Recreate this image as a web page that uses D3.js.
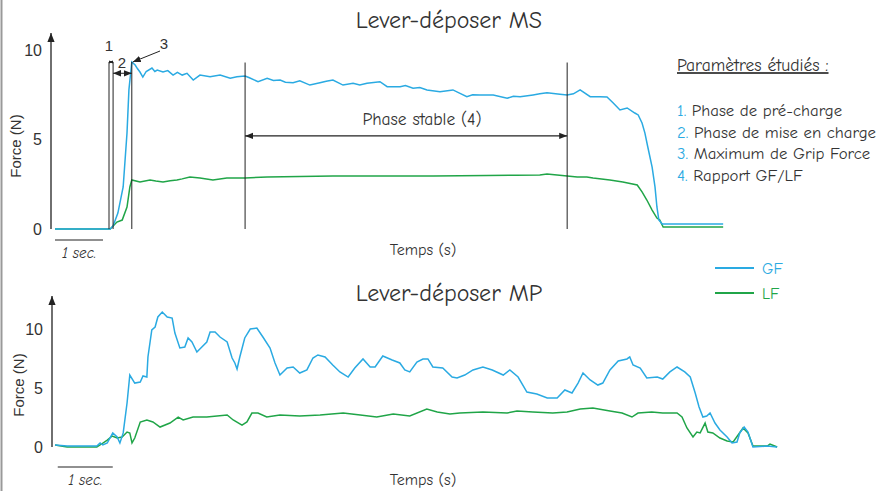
<!DOCTYPE html>
<html>
<head>
  <meta charset="UTF-8">
  <title>Lever-déposer MS / MP</title>
  <style>
    body { margin: 0; background: #fff; }
    svg { display: block; }
    .comic { font-family: "Comic Sans MS", "Comic Neue", "DejaVu Sans", sans-serif; fill: #333; }
    .arial { font-family: Arial, "Liberation Sans", sans-serif; fill: #333; }
  </style>
</head>
<body>
<svg></svg>
<script src="https://d3js.org/d3.v7.min.js"></script>
<script>

// ---- data (time in s, force in N) ----
let msGF = [[0,0],[1.15,0],[1.21,0.17],[1.31,0.89],[1.42,2.35],[1.50,5.36],[1.54,7.77],[1.60,9.33],
  [1.67,9.16],[1.72,8.95],[1.77,8.77],[1.83,8.49],[1.90,8.80],[2.02,8.99],[2.08,8.80],[2.13,8.88],[2.25,8.77],
  [2.35,8.85],[2.46,8.60],[2.55,8.75],[2.65,8.60],[2.75,8.70],[2.88,8.32],[3.02,8.60],[3.23,8.51],[3.44,8.60],
  [3.65,8.42],[3.79,8.51],[3.96,8.55],[4.05,8.45],[4.23,8.23],[4.42,8.42],[4.55,8.30],[4.69,8.32],[4.80,8.20],
  [4.96,8.17],[5.10,8.28],[5.31,8.04],[5.52,8.17],[5.65,8.25],[5.79,8.32],[6.00,8.04],[6.21,8.14],[6.35,8.05],
  [6.50,8.14],[6.77,8.23],[6.92,7.95],[7.19,7.95],[7.30,8.02],[7.46,7.86],[7.60,7.90],[7.75,7.77],[8.02,7.67],
  [8.29,7.77],[8.58,7.39],[8.70,7.50],[8.85,7.49],[9.13,7.49],[9.42,7.30],[9.55,7.42],[9.69,7.39],[9.96,7.49],
  [10.10,7.55],[10.25,7.61],[10.52,7.53],[10.67,7.49],[10.80,7.55],[10.94,7.77],[11.15,7.39],[11.35,7.39],
  [11.50,7.37],[11.63,7.04],[11.77,6.65],[11.92,6.76],[12.08,6.48],[12.15,6.37],[12.23,5.92],[12.29,5.36],
  [12.35,4.58],[12.44,3.46],[12.50,2.35],[12.54,1.23],[12.58,0.50],[12.65,0.28],[13.92,0.28]];

let msLF = [[0,0],[1.15,0],[1.29,0.39],[1.40,0.50],[1.50,1.23],[1.56,2.35],[1.60,2.74],[1.77,2.63],
  [1.98,2.74],[2.10,2.68],[2.25,2.63],[2.40,2.70],[2.54,2.74],[2.65,2.80],[2.81,2.91],[3.02,2.85],[3.29,2.74],
  [3.58,2.85],[3.96,2.85],[4.42,2.91],[5.10,2.93],[5.79,2.96],[6.80,2.96],[7.88,2.96],[9.00,2.99],[9.60,3.00],
  [10.10,3.02],[10.25,3.07],[10.67,2.96],[10.88,2.91],[11.08,2.91],[11.21,2.85],[11.56,2.74],[11.83,2.63],
  [12.13,2.46],[12.23,2.07],[12.33,1.62],[12.44,1.06],[12.54,0.61],[12.60,0.50],[12.67,0.11],[13.92,0.11]];

let mpGF = [[0,0.17],[0.22,0.08],[0.76,0.08],[0.82,0.34],[0.87,0.17],[0.95,0.34],[1.05,1.19],[1.13,0.85],
  [1.18,0.34],[1.24,1.19],[1.31,3.73],[1.36,6.10],[1.45,5.42],[1.55,5.51],[1.60,6.02],[1.67,5.93],[1.69,7.63],
  [1.76,9.92],[1.82,10.17],[1.87,11.02],[1.95,11.44],[2.04,11.02],[2.13,10.93],[2.18,9.66],[2.27,8.39],
  [2.36,8.47],[2.42,9.24],[2.49,8.90],[2.58,8.05],[2.67,8.47],[2.76,8.90],[2.82,9.75],[2.91,9.75],[3.00,9.32],
  [3.13,8.90],[3.22,7.54],[3.27,7.12],[3.31,6.61],[3.36,7.63],[3.45,9.24],[3.55,10.00],[3.67,10.08],[3.78,9.32],
  [3.91,8.39],[4.00,7.12],[4.09,6.10],[4.22,6.69],[4.33,6.78],[4.45,6.27],[4.58,6.53],[4.69,7.54],[4.78,7.80],
  [4.91,7.63],[5.05,6.95],[5.18,6.36],[5.33,5.93],[5.45,6.69],[5.60,7.46],[5.73,6.78],[5.82,6.78],[5.96,7.71],
  [6.13,7.37],[6.27,7.12],[6.36,6.53],[6.45,6.36],[6.58,7.20],[6.69,7.46],[6.78,7.46],[6.87,6.78],[7.05,6.69],
  [7.22,5.93],[7.31,5.85],[7.45,6.10],[7.60,6.53],[7.78,6.78],[7.95,6.53],[8.15,6.10],[8.27,6.53],[8.42,5.93],
  [8.58,4.66],[8.76,4.49],[8.95,4.15],[9.13,4.15],[9.27,4.83],[9.40,4.58],[9.51,5.42],[9.60,6.27],[9.73,5.68],
  [9.87,5.25],[9.96,5.42],[10.09,6.53],[10.24,7.29],[10.40,7.46],[10.45,7.63],[10.51,6.95],[10.64,6.69],
  [10.76,5.85],[10.95,5.93],[11.05,5.76],[11.18,6.36],[11.31,6.78],[11.45,6.36],[11.55,5.93],[11.64,4.58],
  [11.71,3.39],[11.78,2.54],[11.85,2.63],[11.91,2.88],[12.00,2.03],[12.09,1.44],[12.22,0.85],[12.31,0.34],
  [12.40,0.42],[12.45,1.19],[12.53,1.69],[12.60,1.27],[12.69,0],[12.95,0.08],[13.13,0]];

let mpLF = [[0,0.17],[0.22,0],[0.76,0],[0.82,0.17],[0.95,0.59],[1.04,0.93],[1.13,0.76],[1.22,0.85],
  [1.31,1.27],[1.36,1.19],[1.40,0.34],[1.45,0.76],[1.55,2.12],[1.67,2.29],[1.78,2.12],[1.91,1.69],[2.09,2.03],
  [2.24,2.54],[2.33,2.29],[2.51,2.54],[2.76,2.54],[3.13,2.71],[3.24,2.29],[3.40,1.86],[3.49,2.12],[3.58,2.88],
  [3.69,2.88],[3.85,2.54],[4.09,2.71],[4.45,2.63],[4.82,2.71],[5.24,2.88],[5.55,2.71],[5.85,2.54],[6.15,2.80],
  [6.45,2.63],[6.76,3.22],[6.95,2.97],[7.18,2.80],[7.36,2.88],[7.78,2.97],[8.22,2.88],[8.40,3.05],[8.69,2.97],
  [9.05,2.88],[9.31,2.97],[9.55,3.22],[9.78,3.31],[10.09,3.05],[10.31,2.88],[10.49,2.54],[10.60,2.88],
  [10.85,2.97],[11.05,2.88],[11.31,2.88],[11.40,2.54],[11.49,1.61],[11.60,0.85],[11.67,1.27],[11.73,1.19],
  [11.82,2.03],[11.87,1.27],[11.96,1.19],[12.09,0.76],[12.22,0.51],[12.33,0.42],[12.42,1.02],[12.51,1.61],
  [12.60,1.19],[12.69,0.08],[12.95,0.08],[13.00,0.25],[13.13,0]];

let yTicks = [0, 5, 10];
let phaseLines = [1.125, 1.21, 1.6];      // limits of phases 1, 2 and the GF peak
let stableLines = [3.96, 10.67];          // stable phase (4)
let params = ["Phase de pré-charge", "Phase de mise en charge", "Maximum de Grip Force", "Rapport GF/LF"];
let series = [{name: "GF", color: "#2aaae2"}, {name: "LF", color: "#20a548"}];

let width = 889, height = 491;
let svg = d3.select("svg").attr("width", width).attr("height", height);

// arrow heads
let defs = svg.append("defs");
function marker(id, d, refX, size) {
  defs.append("marker")
    .attr("id", id)
    .attr("viewBox", "0 -5 10 10")
    .attr("refX", refX).attr("refY", 0)
    .attr("markerWidth", size).attr("markerHeight", size)
    .attr("markerUnits", "userSpaceOnUse")
    .attr("orient", "auto")
    .append("path").attr("d", d).attr("fill", "#222");
}
marker("arrEnd", "M0,-4L10,0L0,4Z", 10, 8);
marker("arrStart", "M10,-4L0,0L10,4Z", 0, 8);
marker("axisArr", "M0,-4L10,0L0,4Z", 10, 9);
marker("tinyEnd", "M0,-4L10,0L0,4Z", 10, 4);
marker("tinyStart", "M10,-4L0,0L10,4Z", 0, 4);

// left border
svg.append("line").attr("x1", 1.5).attr("x2", 1.5).attr("y1", 0).attr("y2", height)
  .attr("stroke", "#999").attr("stroke-width", 2);

function panel(x, y, gf, lf, cfg) {
  let g = svg.append("g");

  // y axis with arrow
  g.append("line")
    .attr("x1", cfg.axisX).attr("x2", cfg.axisX)
    .attr("y1", y(0)).attr("y2", y(cfg.arrowTop))
    .attr("stroke", "#222").attr("stroke-width", 1.3)
    .attr("marker-end", "url(#axisArr)");

  let ax = g.append("g")
    .attr("transform", "translate(" + cfg.axisX + ",0)")
    .call(d3.axisLeft(y).tickValues(yTicks).tickSize(0).tickPadding(9).tickFormat(d3.format("d")));
  ax.select(".domain").remove();
  ax.selectAll("text").attr("class", "arial").style("font-size", "16px")
    .style("font-family", "Arial, 'Liberation Sans', sans-serif").attr("fill", "#333");

  g.append("text").attr("class", "arial")
    .attr("transform", "translate(" + cfg.ylabX + "," + cfg.ylabY + ") rotate(-90)")
    .attr("text-anchor", "middle").attr("dy", "0.35em")
    .style("font-size", "15px").text("Force (N)");

  // curves
  let line = d3.line().x(d => x(d[0])).y(d => y(d[1]));
  g.append("path").datum(lf).attr("d", line)
    .attr("fill", "none").attr("stroke", series[1].color).attr("stroke-width", 1.5);
  g.append("path").datum(gf).attr("d", line)
    .attr("fill", "none").attr("stroke", series[0].color).attr("stroke-width", 1.5);

  // title
  g.append("text").attr("class", "comic")
    .attr("x", 449).attr("y", cfg.titleY).attr("text-anchor", "middle").attr("dy", "0.35em")
    .style("font-size", "24px").text(cfg.title);

  // x label
  g.append("text").attr("class", "comic")
    .attr("x", 423).attr("y", cfg.xlabY).attr("text-anchor", "middle").attr("dy", "0.35em")
    .style("font-size", "16px").text("Temps (s)");

  // 1 sec scale bar
  g.append("line")
    .attr("x1", x(cfg.barStart)).attr("x2", x(cfg.barStart + 1))
    .attr("y1", cfg.barY).attr("y2", cfg.barY)
    .attr("stroke", "#222").attr("stroke-width", 1.2);
  g.append("text").attr("class", "comic")
    .attr("x", (x(cfg.barStart) + x(cfg.barStart + 1)) / 2).attr("y", cfg.barY + 13)
    .attr("text-anchor", "middle").attr("dy", "0.35em")
    .style("font-size", "15px").style("font-style", "italic").text("1 sec.");
  return g;
}

// ---- top panel : Lever-déposer MS ----
let xTop = d3.scaleLinear().domain([0, 14]).range([55, 55 + 14 * 48]);
let yTop = d3.scaleLinear().domain([0, 10]).range([229, 50]);
let gTop = panel(xTop, yTop, msGF, msLF, {
  axisX: 51, arrowTop: 10.95, ylabX: 16, ylabY: 146, title: "Lever-déposer MS", titleY: 20,
  xlabY: 249, barStart: 0, barY: 240
});

// phase markers
let peak = 9.33;
gTop.selectAll(".ph").data(phaseLines.concat(stableLines)).enter().append("line")
  .attr("x1", d => xTop(d)).attr("x2", d => xTop(d))
  .attr("y1", yTop(0)).attr("y2", (d, i) => i < 3 ? yTop(peak) : yTop(9.3))
  .attr("stroke", "#222").attr("stroke-width", 1);

gTop.append("line")
  .attr("x1", xTop(phaseLines[0])).attr("x2", xTop(phaseLines[1]))
  .attr("y1", yTop(peak)).attr("y2", yTop(peak))
  .attr("stroke", "#222").attr("stroke-width", 1)
  .attr("marker-start", "url(#tinyStart)").attr("marker-end", "url(#tinyEnd)");
gTop.append("line")
  .attr("x1", xTop(phaseLines[1])).attr("x2", xTop(phaseLines[2]))
  .attr("y1", yTop(8.7)).attr("y2", yTop(8.7))
  .attr("stroke", "#222").attr("stroke-width", 1)
  .attr("marker-start", "url(#arrStart)").attr("marker-end", "url(#arrEnd)");
gTop.append("line")
  .attr("x1", 160).attr("x2", xTop(phaseLines[2]) + 1)
  .attr("y1", 51).attr("y2", yTop(peak))
  .attr("stroke", "#222").attr("stroke-width", 1)
  .attr("marker-end", "url(#arrEnd)");

[["1", 109, 46], ["2", 122, 63], ["3", 164, 44]].forEach(t => {
  gTop.append("text").attr("class", "arial")
    .attr("x", t[1]).attr("y", t[2]).attr("text-anchor", "middle").attr("dy", "0.35em")
    .style("font-size", "15px").text(t[0]);
});

// stable phase arrow
gTop.append("line")
  .attr("x1", xTop(stableLines[0])).attr("x2", xTop(stableLines[1]))
  .attr("y1", yTop(5.2)).attr("y2", yTop(5.2))
  .attr("stroke", "#222").attr("stroke-width", 1.3)
  .attr("marker-start", "url(#arrStart)").attr("marker-end", "url(#arrEnd)");
gTop.append("text").attr("class", "comic")
  .attr("x", 422).attr("y", 119).attr("text-anchor", "middle").attr("dy", "0.35em")
  .style("font-size", "17.5px").text("Phase stable (4)");

// parameters list
let lg = svg.append("g").attr("transform", "translate(677,0)");
lg.append("text").attr("class", "comic").attr("y", 65).attr("dy", "0.35em")
  .style("font-size", "17.5px").style("text-decoration", "underline").text("Paramètres étudiés :");
let items = lg.selectAll(".item").data(params).enter().append("text")
  .attr("class", "comic").attr("y", (d, i) => 110 + i * 21.7).attr("dy", "0.35em")
  .style("font-size", "16.8px");
items.append("tspan").attr("fill", series[0].color).text((d, i) => (i + 1) + ". ");
items.append("tspan").text(d => d);

// GF / LF legend
let leg = svg.selectAll(".leg").data(series).enter().append("g")
  .attr("transform", (d, i) => "translate(715," + (268 + i * 25) + ")");
leg.append("line").attr("x1", 0).attr("x2", 39)
  .attr("stroke", d => d.color).attr("stroke-width", 1.8);
leg.append("text").attr("x", 47).attr("dy", "0.35em")
  .style("font-family", "'Comic Sans MS', 'Comic Neue', 'DejaVu Sans', sans-serif").style("font-size", "16px")
  .attr("fill", d => d.color).text(d => d.name);

// ---- bottom panel : Lever-déposer MP ----
let xBot = d3.scaleLinear().domain([0, 14]).range([55, 55 + 14 * 55]);
let yBot = d3.scaleLinear().domain([0, 10]).range([447, 329]);
panel(xBot, yBot, mpGF, mpLF, {
  axisX: 52, arrowTop: 12.8, ylabX: 19, ylabY: 385, title: "Lever-déposer MP", titleY: 293,
  xlabY: 479, barStart: 0.05, barY: 467
});

</script>
</body>
</html>
